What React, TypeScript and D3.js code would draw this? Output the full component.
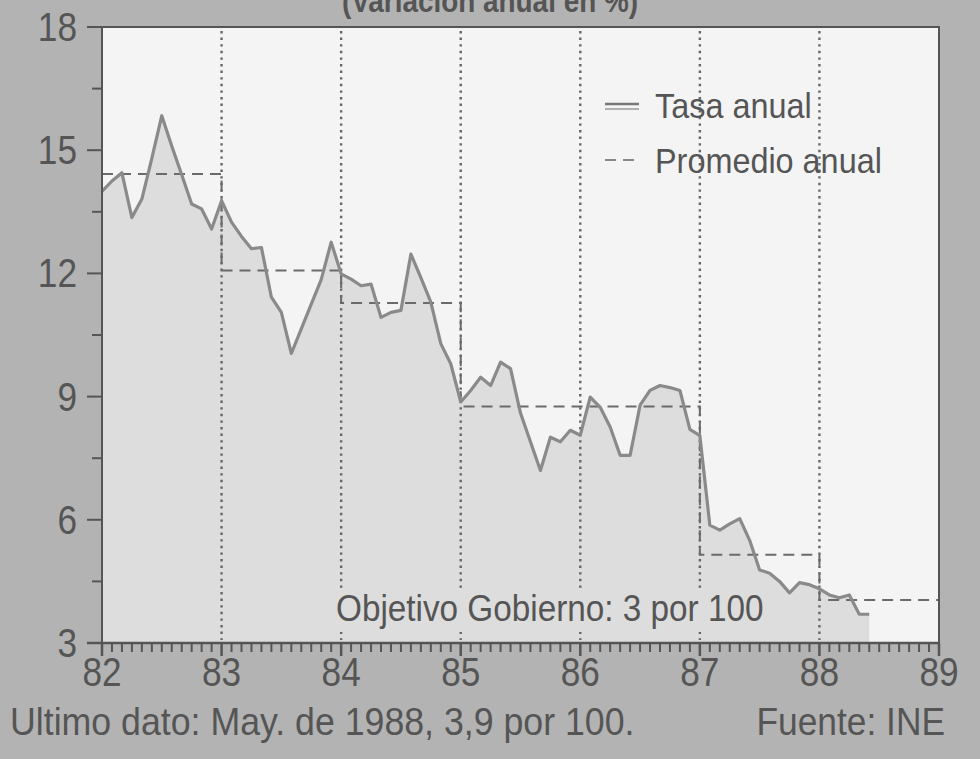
import * as d3 from "d3";

// monthly annual-rate values, plotted at month end, Dec 1981 .. May 1988
const tasaAnual = [
  14.0, 14.25, 14.45, 13.36, 13.81, 14.8, 15.84, 15.1, 14.4, 13.69, 13.57, 13.08,
  13.77, 13.25, 12.9, 12.6, 12.63, 11.42, 11.05, 10.05, 10.65, 11.25, 11.85, 12.76,
  11.99, 11.86, 11.7, 11.74, 10.93, 11.05, 11.1, 12.47, 11.9, 11.3, 10.29, 9.8,
  8.87, 9.15, 9.47, 9.27, 9.84, 9.68, 8.6, 7.9, 7.2, 8.01, 7.9, 8.18,
  8.06, 8.99, 8.74, 8.26, 7.57, 7.57, 8.79, 9.15, 9.27, 9.22, 9.15, 8.2,
  8.05, 5.87, 5.75, 5.9, 6.03, 5.5, 4.78, 4.7, 4.5, 4.22, 4.47, 4.42,
  4.32, 4.17, 4.1, 4.17, 3.7, 3.7
];

const years = [82, 83, 84, 85, 86, 87, 88];
const promedioAnual = [14.42, 12.07, 11.28, 8.76, 8.76, 5.15, 4.05];

const xTicks = [82, 83, 84, 85, 86, 87, 88, 89];
const yTicks = [3, 6, 9, 12, 15, 18];
const gridYears = [83, 84, 85, 86, 87, 88];

const title = "(Variación anual en %)";
const legendTasa = "Tasa anual";
const legendProm = "Promedio anual";
const objetivo = "Objetivo Gobierno: 3 por 100";
const nota = "Ultimo dato: May. de 1988, 3,9 por 100.";
const fuente = "Fuente: INE";

const font = "'Liberation Sans', Arial, sans-serif";
const ink = "#555";

// narrow-looking text: regular face squeezed horizontally around its anchor
function Narrow({ x, y, size, sx = 0.9, anchor = "start", bold = false, children }: any) {
  return (
    <text transform={`translate(${x},${y}) scale(${sx},1)`} textAnchor={anchor}
      fontFamily={font} fontSize={size} fontWeight={bold ? "bold" : "normal"} fill={ink}>
      {children}
    </text>
  );
}

export default function App() {
  const width = 980;
  const height = 759;
  const left = 102;
  const right = 939;
  const top = 27;
  const bottom = 643;

  const x = d3.scaleLinear([82, 89], [left, right]);
  const y = d3.scaleLinear([3, 18], [bottom, top]);

  const pts = tasaAnual.map((v, i) => ({ t: 82 + i / 12, v }));

  const line = d3.line<any>().x(d => x(d.t)).y(d => y(d.v));
  const area = d3.area<any>().x(d => x(d.t)).y0(bottom).y1(d => y(d.v));

  const steps = [...years.map((yr, i) => ({ t: yr, v: promedioAnual[i] })),
    { t: 89, v: promedioAnual[promedioAnual.length - 1] }];
  const stepLine = d3.line<any>().x(d => x(d.t)).y(d => y(d.v)).curve(d3.curveStepAfter);

  const minorY = d3.range(3, 18.01, 1.5);
  const months = d3.range(82, 89.001, 1 / 12);

  return (
    <svg width={width} height={height} style={{ position: "absolute", left: 0, top: 0 }}>
      <rect x={0} y={0} width={width} height={height} fill="#b3b3b3" />
      <Narrow x={490} y={12} size={31} sx={0.9} anchor="middle" bold>{title}</Narrow>

      <rect x={left} y={top} width={right - left} height={bottom - top} fill="#f4f4f4" />
      <path d={area(pts) || ""} fill="#dddddd" />

      {gridYears.map(yr => (
        <line key={yr} x1={x(yr)} x2={x(yr)} y1={top + 4} y2={bottom - 3}
          stroke="#666" strokeWidth={2.4} strokeDasharray="2.4 4.2" />
      ))}

      <rect x={330} y={588} width={442} height={44} fill="#dddddd" />
      <Narrow x={336} y={621} size={37} sx={0.9}>{objetivo}</Narrow>

      <path d={stepLine(steps) || ""} fill="none" stroke="#6a6a6a" strokeWidth={2}
        strokeDasharray="11 7" />
      <path d={line(pts) || ""} fill="none" stroke="#8a8a8a" strokeWidth={3.2}
        strokeLinejoin="round" />

      {/* frame */}
      <path d={`M${left},${bottom}V${top}H${right}V${bottom}`} fill="none" stroke="#555" strokeWidth={2} />
      <line x1={left - 15} x2={right} y1={bottom} y2={bottom} stroke="#555" strokeWidth={2.5} />

      {minorY.map(v => (
        <line key={v} x1={left - (v % 3 === 0 ? 15 : 10)} x2={left} y1={y(v)} y2={y(v)}
          stroke="#555" strokeWidth={2} />
      ))}
      {months.map((m, i) => (
        <line key={i} x1={x(m)} x2={x(m)} y1={bottom}
          y2={bottom + (i % 12 === 0 ? 13 : 9)} stroke="#555" strokeWidth={i % 12 === 0 ? 2.5 : 2} />
      ))}

      {yTicks.map(v => (
        <Narrow key={v} x={77} y={y(v) + 14} size={40} sx={0.88} anchor="end">{v}</Narrow>
      ))}
      {xTicks.map(v => (
        <Narrow key={v} x={x(v)} y={686} size={40} sx={0.88} anchor="middle">{v}</Narrow>
      ))}

      {/* legend */}
      <line x1={605} x2={639} y1={104} y2={104} stroke="#777" strokeWidth={2.5} />
      <line x1={605} x2={639} y1={109} y2={109} stroke="#999" strokeWidth={1.5} />
      <Narrow x={655} y={118} size={36} sx={0.9}>{legendTasa}</Narrow>
      <line x1={605} x2={640} y1={160} y2={160} stroke="#888" strokeWidth={2}
        strokeDasharray="11 7" />
      <Narrow x={655} y={173} size={36} sx={0.9}>{legendProm}</Narrow>

      <Narrow x={10} y={735} size={38} sx={0.94}>{nota}</Narrow>
      <Narrow x={945} y={735} size={38} sx={0.93} anchor="end">{fuente}</Narrow>
    </svg>
  );
}
